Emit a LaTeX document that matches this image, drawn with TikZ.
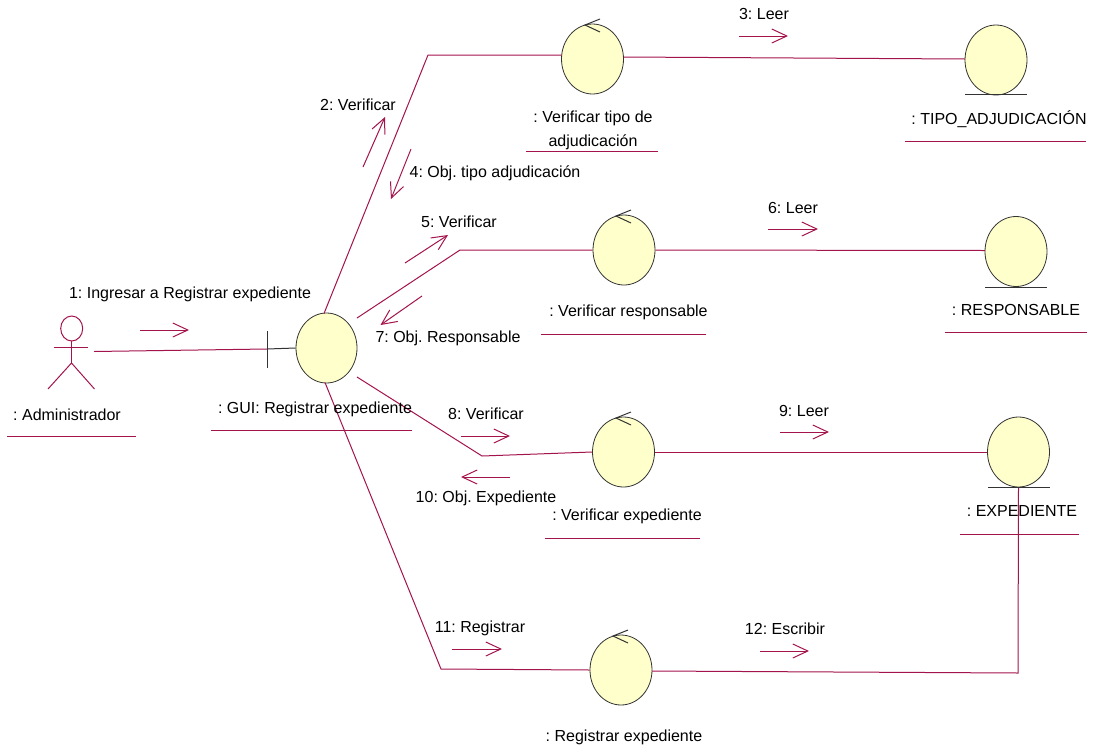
\documentclass[tikz,border=0pt]{standalone}
\usepackage{fontspec}
\setmainfont{Liberation Sans}
\usetikzlibrary{shapes.geometric,arrows.meta}
\definecolor{umlred}{HTML}{A3134C}
\definecolor{umlfill}{HTML}{FFFFCB}
\definecolor{umlink}{HTML}{333333}
\tikzset{
  x=1pt,y=-1pt,
  obj/.style={ellipse,draw=umlink,fill=umlfill,line width=0.8pt,minimum width=62pt,minimum height=70pt,inner sep=0pt},
  link/.style={draw=umlred,line width=1pt},
  mark line/.style={draw=umlink,line width=1pt},
  msg/.style={draw=umlred,line width=1pt,-{Straight Barb[length=15pt,width=14pt,line width=1pt]}},
  lbl/.style={font=\fontsize{16pt}{17pt}\selectfont\frenchspacing,text=black,inner sep=0pt,anchor=base,align=center},
  under/.style={draw=umlred,line width=1pt},
}
\begin{document}
\begin{tikzpicture}
\useasboundingbox (0,0) rectangle (1093,753);
% objects
\node[obj,minimum width=61pt] (gui) at (326.5,348) {};
\node[obj] (vt) at (592.5,59) {};
\node[obj] (tipo) at (996,60) {};
\node[obj] (vr) at (624,250) {};
\node[obj] (resp) at (1016,251.5) {};
\node[obj] (ve) at (623.5,452) {};
\node[obj] (exp) at (1018.5,452) {};
\node[obj] (vreg) at (621,670) {};
% named points
\coordinate (guiN) at (324,313.5);
\coordinate (guiS) at (325,382.5);
\coordinate (guiNE) at (357,318);
\coordinate (guiSE) at (357,377);
\coordinate (bvt) at (428,55);
\coordinate (bvr) at (460,250);
\coordinate (bve) at (482,456);
\coordinate (bvreg) at (441,669);
\coordinate (bexp) at (1018,673);
\coordinate (vtW) at (561.5,55);
\coordinate (vtE) at (623.5,57);
\coordinate (tipoW) at (965,59);
\coordinate (respW) at (985,250.5);
\coordinate (vregE) at (652,671);
\coordinate (adm) at (94,351.5);
\coordinate (bndT) at (267,331);
\coordinate (bndB) at (267,368);
\coordinate (bndM) at (267,349);
% connectors
\draw[link] (adm) -- (bndM);
\draw[mark line] (bndT) -- (bndB);
\draw[mark line] (bndM) -- (gui.west);
\draw[link] (guiN) -- (bvt) -- (vtW);
\draw[link] (vtE) -- (tipoW);
\draw[link] (guiNE) -- (bvr) -- (vr.west);
\draw[link] (vr.east) -- (respW);
\draw[link] (guiSE) -- (bve) -- (ve.west);
\draw[link] (ve.east) -- (exp.west);
\draw[link] (guiS) -- (bvreg) -- (vreg.west);
\draw[link] (vregE) -- (bexp) -- (exp.south);
% entity bars
\draw[mark line] (965,94.5) -- (1027,94.5);
\draw[mark line] (985,287.5) -- (1047,287.5);
\draw[mark line] (988,487) -- (1050,487);
% control marks
\foreach \n/\x/\y in {vt/585/25,vr/616/216,ve/616/418,vreg/613/636}{
  \draw[mark line] (\x+15,\y-6) -- (\x,\y) -- (\x+15,\y+7);
}
% actor
\draw[link] (71.7,328.5) ellipse [x radius=11,y radius=12.5];
\draw[link] (54,347) -- (88,347);
\draw[link] (71.5,341) -- (71.5,363);
\draw[link] (48,389) -- (71.5,363) -- (94.5,389);
% messages
\draw[msg] (140,330) -- (189,330);
\draw[msg] (363,167) -- (385,117);
\draw[msg] (411,149) -- (391,199);
\draw[msg] (739,36) -- (788,36);
\draw[msg] (405,263) -- (448,235);
\draw[msg] (422,296) -- (380.5,325);
\draw[msg] (768,229) -- (818,229);
\draw[msg] (461,436) -- (510,436);
\draw[msg] (510,477) -- (461,477);
\draw[msg] (780,432) -- (829,432);
\draw[msg] (452,649) -- (502,649);
\draw[msg] (760,651) -- (809,651);
% labels
\node[lbl] (l1) at (190,298) {1: Ingresar a Registrar expediente};
\node[lbl] (l2) at (358,110) {2: Verificar};
\node[lbl] (l3) at (764,19) {3: Leer};
\node[lbl] (l4) at (495,177) {4: Obj. tipo adjudicación};
\node[lbl] (l5) at (459,227) {5: Verificar};
\node[lbl] (l6) at (793,213) {6: Leer};
\node[lbl] (l7) at (448,342) {7: Obj. Responsable};
\node[lbl] (l8) at (486,419) {8: Verificar};
\node[lbl] (l9) at (804,416) {9: Leer};
\node[lbl] (l10) at (486,502) {10: Obj. Expediente};
\node[lbl] (l11) at (480,632) {11: Registrar};
\node[lbl] (l12) at (785,634) {12: Escribir};
\node[lbl] (tadm) at (67,420) {: Administrador};
\node[lbl] (tgui) at (315,413) {: GUI: Registrar expediente};
\node[lbl] (tvt1) at (593,122) {: Verificar tipo de};
\node[lbl] (tvt2) at (593,146) {adjudicación};
\node[lbl] (ttipo) at (999,124) {: TIPO\_ADJUDICACIÓN};
\node[lbl] (tvr) at (628.5,316) {: Verificar responsable};
\node[lbl] (tresp) at (1016,315) {: RESPONSABLE};
\node[lbl] (tve) at (627,520) {: Verificar expediente};
\node[lbl] (texp) at (1022,516) {: EXPEDIENTE};
\node[lbl] (tvreg) at (624,741) {: Registrar expediente};
% underlines
\draw[under] (7,436.5) -- (136,436.5);
\draw[under] (211,430.5) -- (412,430.5);
\draw[under] (526,151.5) -- (658,151.5);
\draw[under] (905,141.5) -- (1086,141.5);
\draw[under] (541,334) -- (706,334);
\draw[under] (945,332) -- (1087,332);
\draw[under] (545,538) -- (700,538);
\draw[under] (960,534) -- (1079,534);
\end{tikzpicture}
\end{document}
